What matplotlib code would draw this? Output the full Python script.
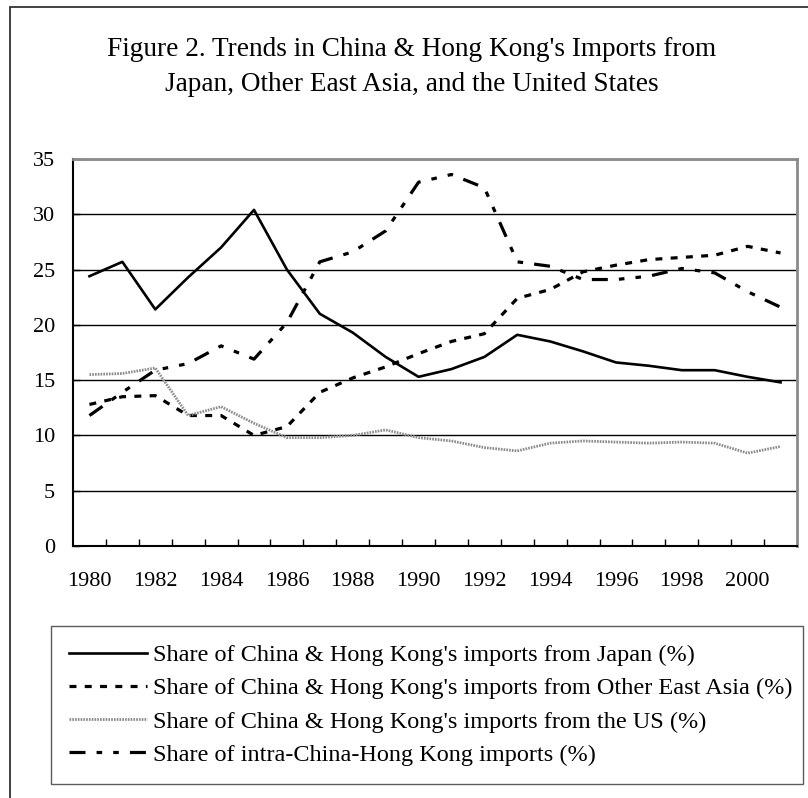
import matplotlib.pyplot as plt
from matplotlib.patches import Rectangle
from matplotlib.ticker import MultipleLocator, FixedLocator

years = list(range(1980, 2002))
japan = [24.4, 25.7, 21.4, 24.3, 27.0, 30.4, 25.0, 21.0, 19.3, 17.1, 15.3,
         16.0, 17.1, 19.1, 18.5, 17.6, 16.6, 16.3, 15.9, 15.9, 15.3, 14.8]
other_east_asia = [12.8, 13.5, 13.6, 11.8, 11.8, 10.0, 10.8, 13.9, 15.2, 16.2, 17.4,
                   18.5, 19.2, 22.4, 23.2, 24.8, 25.4, 25.9, 26.1, 26.3, 27.1, 26.5]
us = [15.5, 15.6, 16.1, 11.8, 12.6, 11.1, 9.8, 9.8, 10.0, 10.5, 9.8,
      9.5, 8.9, 8.6, 9.3, 9.5, 9.4, 9.3, 9.4, 9.3, 8.4, 9.0]
intra = [11.8, 13.9, 15.9, 16.5, 18.1, 16.9, 20.2, 25.7, 26.6, 28.5, 32.9,
         33.6, 32.4, 25.7, 25.3, 24.1, 24.1, 24.4, 25.1, 24.7, 23.0, 21.6]

labels = ["Share of China & Hong Kong's imports from Japan (%)",
          "Share of China & Hong Kong's imports from Other East Asia (%)",
          "Share of China & Hong Kong's imports from the US (%)",
          "Share of intra-China-Hong Kong imports (%)"]
title = ("Figure 2. Trends in China & Hong Kong's Imports from\n"
         "Japan, Other East Asia, and the United States")

plt.rcParams['font.family'] = ['Liberation Serif', 'DejaVu Serif']
plt.rcParams['lines.scale_dashes'] = False
fs = 16

fig = plt.figure(figsize=(8.08, 7.98), dpi=100)
W, H = 808, 798
ax = fig.add_axes([73 / W, 1 - 546 / H, (797 - 73) / W, (546 - 159) / H])

ax.plot(years, japan, color='black', lw=1.9, label=labels[0])
ax.plot(years, other_east_asia, color='black', lw=2.3, dashes=(5, 6), label=labels[1])
ax.plot(years, us, color='#8c8c8c', lw=2.0, dashes=(1.2, 0.8), label=labels[2])
ax.plot(years, intra, color='black', lw=2.3, dashes=(11.5, 8, 4, 8, 4, 8), label=labels[3])

ax.set_xlim(1979.5, 2001.5)
ax.set_ylim(0, 35)
ax.yaxis.set_major_locator(MultipleLocator(5))
ax.xaxis.set_major_locator(FixedLocator(years[::2]))
ax.xaxis.set_minor_locator(FixedLocator([y + 0.5 for y in years[:-1]]))
ax.tick_params(axis='x', which='major', length=0, pad=19, labelsize=fs)
ax.tick_params(axis='x', which='minor', direction='in', length=5, width=1)
ax.tick_params(axis='y', direction='in', length=5, width=1, pad=13, labelsize=fs)
ax.yaxis.grid(True, color='black', lw=1)

for s in ['top', 'right']:
    ax.spines[s].set_color('#8a8a8a')
    ax.spines[s].set_linewidth(2)
for s in ['left', 'bottom']:
    ax.spines[s].set_color('black')
    ax.spines[s].set_linewidth(1.5)

fig.text(412 / W, 1 - 67 / H, title, ha='center', va='center', fontsize=19.6,
         linespacing=1.55)

leg = fig.legend(loc='upper left', bbox_to_anchor=(51 / W, 1 - 626 / H, 752 / W, 0),
                 mode='expand', fontsize=17.5, frameon=True, fancybox=False,
                 handlelength=3.2, handletextpad=0.25, labelspacing=0.46,
                 borderpad=0.75, borderaxespad=0)
leg.get_frame().set_edgecolor('#333333')
leg.get_frame().set_linewidth(1)

fig.add_artist(Rectangle((10 / W, -0.5), 2, 0.5 + 1 - 7 / H, transform=fig.transFigure,
                         fill=False, edgecolor='#333333', lw=1.3))

fig.savefig('out.png', dpi=100)
